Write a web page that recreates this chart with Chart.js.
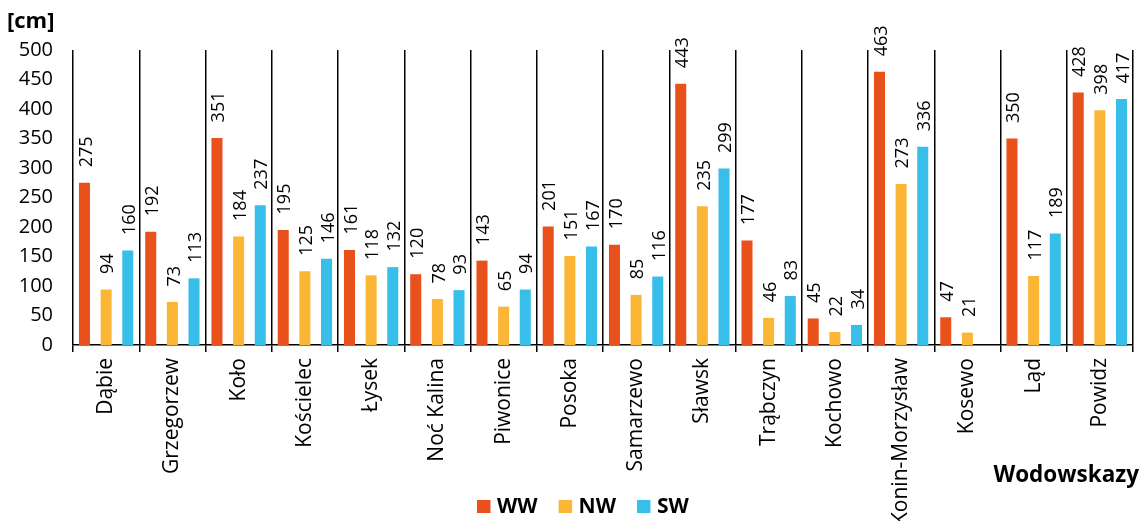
<!DOCTYPE html>
<html>
<head>
<meta charset="utf-8">
<script src="https://cdn.jsdelivr.net/npm/chart.js@4"></script>
<style>
html,body{margin:0;padding:0;background:#fff;}
#wrap{width:1140px;height:521px;position:relative;}
</style>
</head>
<body>
<div id="wrap"><canvas id="c" width="1140" height="521"></canvas></div>
<script>
const categories = ['Dąbie','Grzegorzew','Koło','Kościelec','Łysek','Noć Kalina','Piwonice','Posoka','Samarzewo','Sławsk','Trąbczyn','Kochowo','Konin-Morzysław','Kosewo','Ląd','Powidz'];
const wwValues = [275,192,351,195,161,120,143,201,170,443,177,45,463,47,350,428];
const nwValues = [94,73,184,125,118,78,65,151,85,235,46,22,273,21,117,398];
const swValues = [160,113,237,146,132,93,94,167,116,299,83,34,336,null,189,417];
const seriesNames = ['WW','NW','SW'];
const seriesColors = ['#E9511C','#FBB636','#38BFE9'];
const yTicks = [0,50,100,150,200,250,300,350,400,450,500];
const yUnit = '[cm]';
const xTitle = 'Wodowskazy';

const FONT = "'Open Sans', 'Noto Sans', sans-serif";

const extras = {
  id: 'extras',
  afterDatasetsDraw(chart) {
    const ctx = chart.ctx;
    ctx.save();
    ctx.fillStyle = '#000';
    ctx.font = '18px ' + FONT;
    chart.data.datasets.forEach((ds, di) => {
      const meta = chart.getDatasetMeta(di);
      meta.data.forEach((el, i) => {
        const v = ds.data[i];
        if (v === null || v === undefined) return;
        ctx.save();
        ctx.translate(el.x + 1, el.y - 15.5);
        ctx.rotate(-Math.PI / 2);
        ctx.textAlign = 'left';
        ctx.textBaseline = 'middle';
        ctx.fillText(String(v), 0, 1);
        ctx.restore();
      });
    });
    ctx.restore();
  },
  afterDraw(chart) {
    const ctx = chart.ctx;
    ctx.save();
    ctx.fillStyle = '#000';
    ctx.font = 'bold 22px ' + FONT;
    ctx.textAlign = 'left';
    ctx.textBaseline = 'alphabetic';
    ctx.fillText(yUnit, 7, 28);
    ctx.font = 'bold 22.5px ' + FONT;
    ctx.textAlign = 'right';
    ctx.textBaseline = 'middle';
    ctx.fillText(xTitle, 1139, 476);
    // legend
    ctx.font = 'bold 21px ' + FONT;
    ctx.textAlign = 'left';
    let x = 477;
    const y = 506.5;
    seriesNames.forEach((n, i) => {
      ctx.fillStyle = seriesColors[i];
      ctx.fillRect(x, y - 6.5, 13.5, 13);
      ctx.fillStyle = '#000';
      ctx.fillText(n, x + 20, y + 1);
      x += 20 + ctx.measureText(n).width + 21;
    });
    ctx.restore();
  }
};

const datasets = [wwValues, nwValues, swValues].map((d, i) => ({
  label: seriesNames[i],
  data: d,
  backgroundColor: seriesColors[i],
  borderWidth: 0,
  barPercentage: 0.51,
  categoryPercentage: 0.98
}));

new Chart(document.getElementById('c'), {
  type: 'bar',
  data: { labels: categories, datasets },
  options: {
    responsive: false,
    animation: false,
    layout: { padding: { top: 50, right: 7, left: 0, bottom: 0 } },
    plugins: { legend: { display: false }, tooltip: { enabled: false }, title: { display: false } },
    scales: {
      x: {
        grid: { display: true, offset: true, color: '#000', lineWidth: 1.5, drawTicks: true, tickLength: 7, tickColor: '#000' },
        border: { display: true, color: '#000', width: 1.5 },
        ticks: { autoSkip: false, maxRotation: 90, minRotation: 90, color: '#000', font: { family: FONT, size: 21 }, padding: 6 },
        afterFit(s) { s.height = 176; }
      },
      y: {
        min: 0, max: 500,
        afterBuildTicks(s) { s.ticks = yTicks.map(v => ({ value: v })); },
        grid: { display: false, drawTicks: false },
        border: { display: false },
        ticks: { color: '#000', font: { family: FONT, size: 20 }, padding: 20 },
        afterFit(s) { s.width = 73; }
      }
    }
  },
  plugins: [extras]
});
</script>
</body>
</html>
